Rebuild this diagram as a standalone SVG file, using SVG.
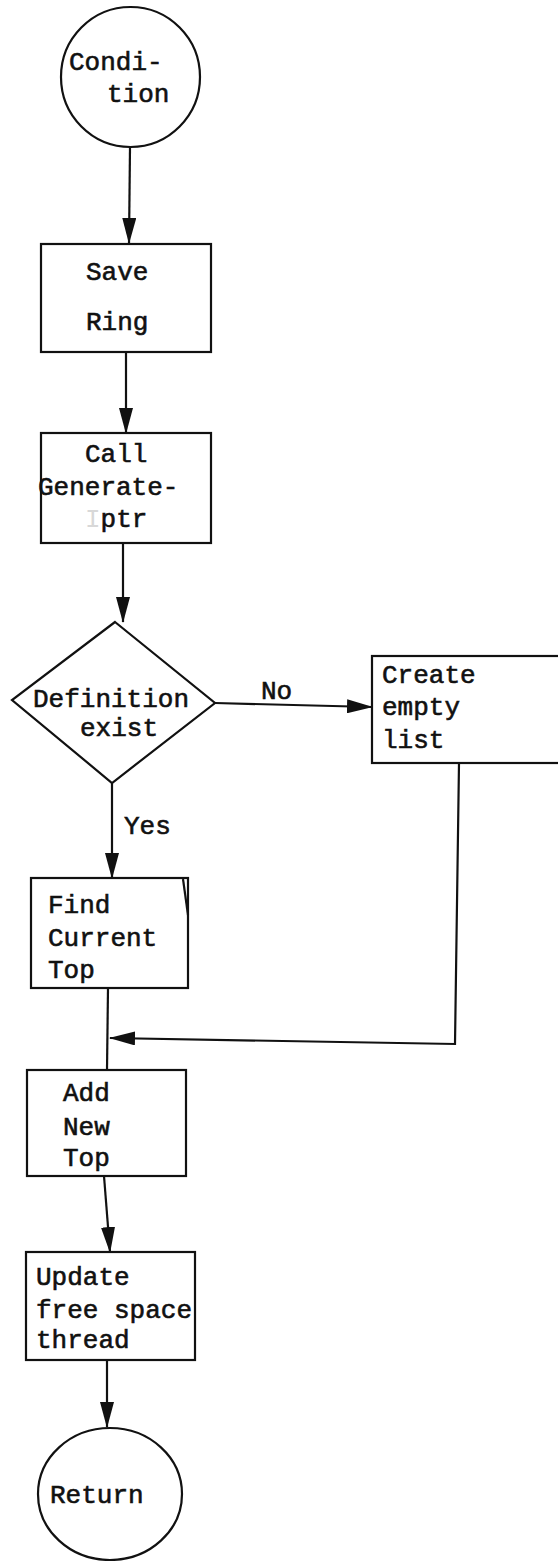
<svg xmlns="http://www.w3.org/2000/svg" width="558" height="1561" viewBox="0 0 558 1561">
  <style>
    .shape { fill: #fff; stroke: #111; stroke-width: 2.2; }
    .edge { fill: none; stroke: #111; stroke-width: 2.2; }
    .lbl { font-family: "Liberation Mono", "DejaVu Sans Mono", monospace; font-size: 26px; fill: #111; stroke: #111; stroke-width: 0.6; }
  </style>
  <defs>
    <marker id="arrow" markerWidth="26" markerHeight="14" refX="25" refY="7" orient="auto" markerUnits="userSpaceOnUse" viewBox="0 0 26 14">
      <path d="M0,0 L26,7 L0,14 Z" fill="#111"/>
    </marker>
  </defs>
  <rect width="558" height="1561" fill="#fff"/>

  <g id="connectors">
    <line class="edge" x1="130" y1="147" x2="129" y2="243" marker-end="url(#arrow)"/>
    <line class="edge" x1="126" y1="352" x2="126" y2="433" marker-end="url(#arrow)"/>
    <line class="edge" x1="123" y1="543" x2="123" y2="622" marker-end="url(#arrow)"/>
    <line class="edge" x1="215" y1="703" x2="372" y2="707" marker-end="url(#arrow)"/>
    <text class="lbl" x="261" y="699">No</text>
    <line class="edge" x1="112" y1="783" x2="112" y2="878" marker-end="url(#arrow)"/>
    <text class="lbl" x="124" y="834">Yes</text>
    <line class="edge" x1="108" y1="988" x2="107" y2="1070"/>
    <polyline class="edge" points="459,763 455,1044 110,1038" marker-end="url(#arrow)"/>
    <line class="edge" x1="104" y1="1176" x2="110" y2="1252" marker-end="url(#arrow)"/>
    <line class="edge" x1="107" y1="1360" x2="107" y2="1427" marker-end="url(#arrow)"/>
  </g>

  <g id="condition">
    <ellipse class="shape" cx="130.5" cy="77" rx="69.5" ry="70"/>
    <text class="lbl" x="69" y="70">Condi-</text>
    <text class="lbl" x="107" y="102">tion</text>
  </g>

  <g id="save-ring">
    <rect class="shape" x="41" y="244" width="170" height="108"/>
    <text class="lbl" x="86" y="280">Save</text>
    <text class="lbl" x="86" y="330">Ring</text>
  </g>

  <g id="call-generate">
    <rect class="shape" x="41" y="433" width="170" height="110"/>
    <text class="lbl" x="85" y="462">Call</text>
    <text class="lbl" x="38" y="495">Generate-</text>
    <text class="lbl" x="85" y="527"><tspan fill="#d8d8d8" stroke="none">I</tspan>ptr</text>
  </g>

  <g id="definition-exist">
    <polygon class="shape" points="115,622 215,703 112,783 12,700"/>
    <text class="lbl" x="33" y="707">Definition</text>
    <text class="lbl" x="80" y="736">exist</text>
  </g>

  <g id="create-empty-list">
    <rect class="shape" x="372" y="656" width="200" height="107"/>
    <text class="lbl" x="382" y="683">Create</text>
    <text class="lbl" x="382" y="715">empty</text>
    <text class="lbl" x="382" y="748">list</text>
  </g>

  <g id="find-current-top">
    <rect class="shape" x="31" y="878" width="157" height="110"/>
    <line class="edge" x1="183" y1="879" x2="188" y2="915"/>
    <text class="lbl" x="48" y="913">Find</text>
    <text class="lbl" x="48" y="946">Current</text>
    <text class="lbl" x="48" y="978">Top</text>
  </g>

  <g id="add-new-top">
    <rect class="shape" x="27" y="1070" width="159" height="106"/>
    <text class="lbl" x="63" y="1101">Add</text>
    <text class="lbl" x="63" y="1135">New</text>
    <text class="lbl" x="63" y="1166">Top</text>
  </g>

  <g id="update-free-space">
    <rect class="shape" x="26" y="1252" width="169" height="108"/>
    <text class="lbl" x="36" y="1285">Update</text>
    <text class="lbl" x="36" y="1318">free space</text>
    <text class="lbl" x="36" y="1348">thread</text>
  </g>

  <g id="return">
    <ellipse class="shape" cx="110" cy="1494" rx="72" ry="66"/>
    <text class="lbl" x="50" y="1503">Return</text>
  </g>
</svg>
